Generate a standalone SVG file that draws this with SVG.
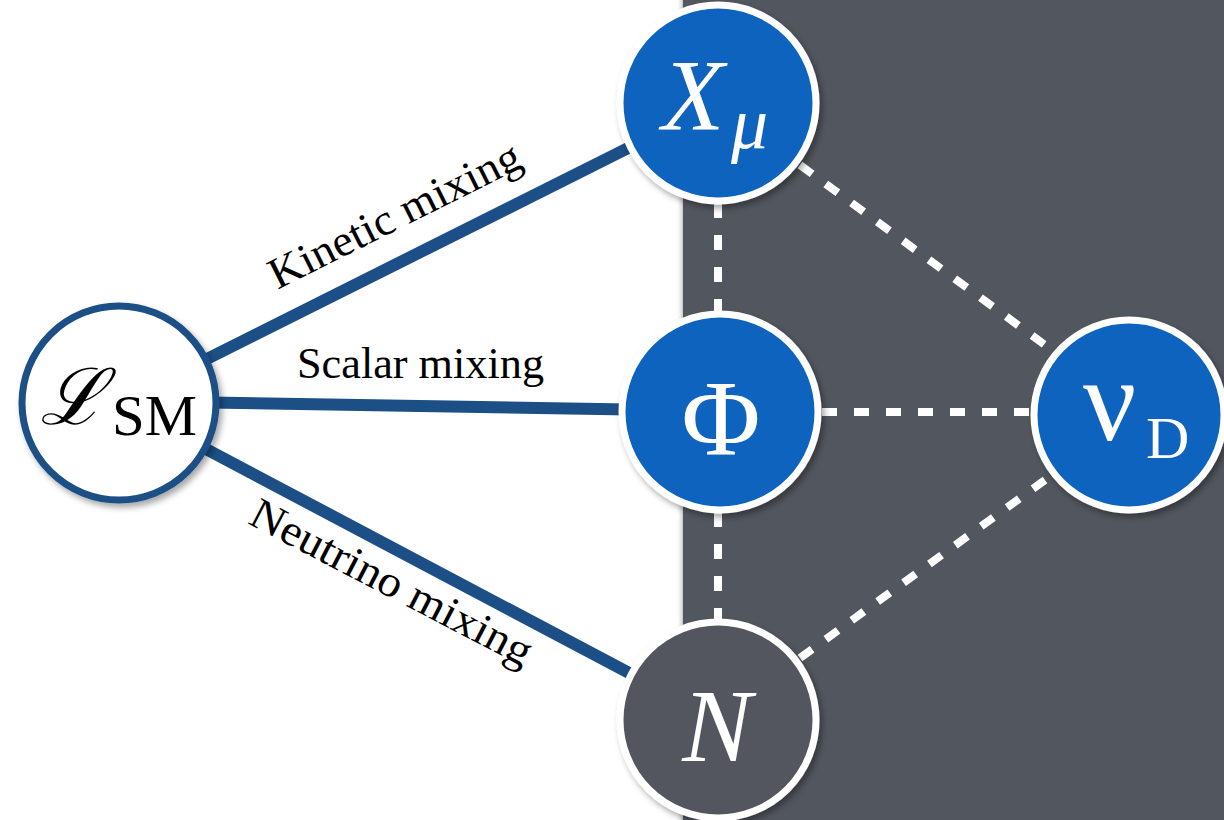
<svg xmlns="http://www.w3.org/2000/svg" width="1224" height="820" viewBox="0 0 1224 820">
  <defs>
    <filter id="shadow" x="-20%" y="-20%" width="150%" height="150%">
      <feDropShadow dx="3" dy="4" stdDeviation="3" flood-color="#000" flood-opacity="0.35"/>
    </filter>
    <linearGradient id="edge" x1="0" y1="0" x2="1" y2="0">
      <stop offset="0" stop-color="#ffffff" stop-opacity="0"/>
      <stop offset="1" stop-color="#b8b9bc" stop-opacity="0.8"/>
    </linearGradient>
    <style>
      .mix { stroke: #1b4f86; stroke-width: 12; fill: none; }
      .dark { stroke: #ffffff; stroke-width: 8; stroke-dasharray: 15 17; fill: none; }
      .ring { fill: #0b63bd; stroke: #ffffff; stroke-width: 7; filter: url(#shadow); }
      .ring-dark { fill: #52565e; stroke: #ffffff; stroke-width: 7; filter: url(#shadow); }
      .sm { fill: #ffffff; stroke: #1b4f86; stroke-width: 7; filter: url(#shadow); }
      .label { font-family: "Liberation Serif", "DejaVu Serif", serif; font-size: 44px; fill: #000000; }
      .sym { font-family: "Liberation Serif", "DejaVu Serif", serif; fill: #ffffff; }
    </style>
  </defs>

  <!-- background with the dark sector panel -->
  <rect x="0" y="0" width="1224" height="820" fill="#ffffff"/>
  <rect x="676" y="0" width="7" height="820" fill="url(#edge)"/>
  <rect x="683" y="0" width="541" height="820" fill="#52565e"/>

  <!-- connectors: portals (solid) and dark-sector couplings (dashed) -->
  <g id="connectors">
    <line class="mix" x1="119" y1="403" x2="718" y2="103"/>
    <line class="mix" x1="119" y1="401" x2="720" y2="411"/>
    <line class="mix" x1="119" y1="403" x2="718" y2="720"/>
    <line class="dark" x1="718" y1="203" x2="718" y2="313"/>
    <line class="dark" x1="718" y1="512" x2="718" y2="621"/>
    <line class="dark" x1="822" y1="412" x2="1033" y2="412"/>
    <line class="dark" x1="800" y1="165" x2="1045" y2="345"/>
    <line class="dark" x1="800" y1="658" x2="1045" y2="480"/>
  </g>

  <!-- edge labels -->
  <g id="labels">
    <text class="label" transform="translate(401,228) rotate(-26.6)" text-anchor="middle" textLength="276" lengthAdjust="spacingAndGlyphs">Kinetic mixing</text>
    <text class="label" x="297" y="378" textLength="247" lengthAdjust="spacingAndGlyphs">Scalar mixing</text>
    <text class="label" transform="translate(385,595) rotate(27.5)" text-anchor="middle" textLength="312" lengthAdjust="spacingAndGlyphs">Neutrino mixing</text>
  </g>

  <!-- nodes -->
  <g id="node-sm">
    <circle class="sm" cx="119" cy="403" r="97"/>
    <text x="40" y="424" font-family="DejaVu Serif, serif" font-style="italic" font-size="78" fill="#000">ℒ</text>
    <text x="112" y="435" font-family="Liberation Serif, serif" font-size="56" fill="#000" textLength="85" lengthAdjust="spacingAndGlyphs">SM</text>
  </g>

  <g id="node-x">
    <circle class="ring" cx="718" cy="103" r="98"/>
    <text class="sym" x="662" y="130" font-size="102" font-style="italic">X</text>
    <text class="sym" x="731" y="148" font-size="74" font-style="italic">μ</text>
  </g>

  <g id="node-phi">
    <circle class="ring" cx="720" cy="412" r="98"/>
    <text class="sym" x="721" y="455" font-size="108" text-anchor="middle">Φ</text>
  </g>

  <g id="node-n">
    <circle class="ring-dark" cx="718" cy="720" r="98"/>
    <text class="sym" x="717" y="761" font-size="104" font-style="italic" text-anchor="middle">N</text>
  </g>

  <g id="node-nud">
    <circle class="ring" cx="1129" cy="415" r="95"/>
    <text class="sym" x="1083" y="440" font-size="118">ν</text>
    <text class="sym" x="1146" y="458" font-size="60">D</text>
  </g>
</svg>
